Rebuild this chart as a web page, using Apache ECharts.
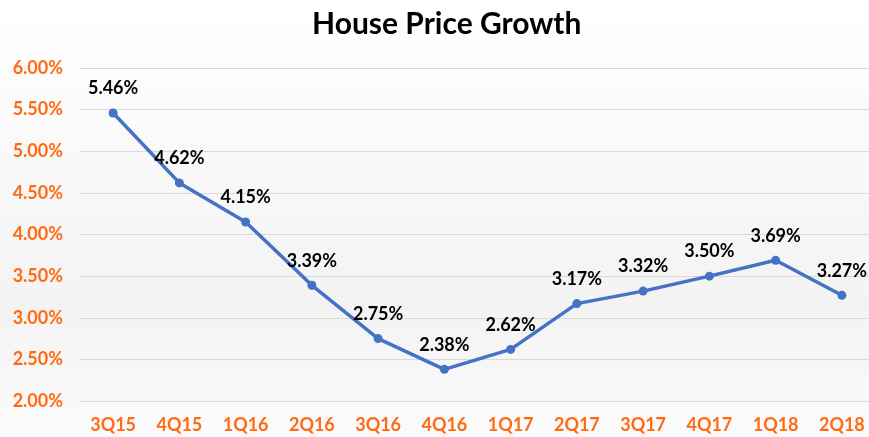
<!DOCTYPE html>
<html>
<head>
<meta charset="utf-8">
<script src="https://cdn.jsdelivr.net/npm/echarts@6/dist/echarts.min.js"></script>
<style>
  html, body { margin: 0; padding: 0; background: #fff; }
  #chart { width: 869px; height: 437px; }
</style>
</head>
<body>
<div id="chart"></div>
<script>
const categories = ['3Q15', '4Q15', '1Q16', '2Q16', '3Q16', '4Q16', '1Q17', '2Q17', '3Q17', '4Q17', '1Q18', '2Q18'];
const growth = [5.46, 4.62, 4.15, 3.39, 2.75, 2.38, 2.62, 3.17, 3.32, 3.50, 3.69, 3.27];

const chart = echarts.init(document.getElementById('chart'));

const option = {
  backgroundColor: {
    type: 'linear', x: 0, y: 0, x2: 0, y2: 1,
    colorStops: [
      { offset: 0, color: '#ffffff' },
      { offset: 0.3, color: '#fafafa' },
      { offset: 0.7, color: '#f3f3f3' },
      { offset: 1, color: '#fbfbfb' }
    ]
  },
  textStyle: { fontFamily: 'Lato, "Open Sans", sans-serif' },
  title: {
    text: 'House Price Growth',
    left: 307,
    top: 4,
    textStyle: { fontSize: 30, fontWeight: 'bold', color: '#000' }
  },
  grid: { left: 80, width: 795, top: 68, bottom: 36, outerBoundsMode: 'none', containLabel: false },
  xAxis: {
    type: 'category',
    data: categories,
    axisLine: { show: false },
    axisTick: { show: false },
    axisLabel: { color: '#FF6A13', fontWeight: 'bold', fontSize: 18, margin: 15 }
  },
  yAxis: {
    type: 'value',
    min: 2,
    max: 6,
    interval: 0.5,
    axisLabel: {
      color: '#FF6A13', fontWeight: 'bold', fontSize: 18, margin: 17,
      formatter: v => v.toFixed(2) + '%'
    },
    splitLine: { lineStyle: { color: '#d9d9d9', width: 1 } }
  },
  series: [{
    type: 'line',
    data: growth,
    symbol: 'circle',
    symbolSize: 9,
    lineStyle: { color: '#4472C4', width: 3.5 },
    itemStyle: { color: '#4472C4' },
    label: {
      show: true,
      position: 'top',
      distance: 11,
      color: '#000',
      fontWeight: 'bold',
      fontSize: 18,
      formatter: p => p.value.toFixed(2) + '%'
    }
  }]
};

chart.setOption(option);
</script>
</body>
</html>
